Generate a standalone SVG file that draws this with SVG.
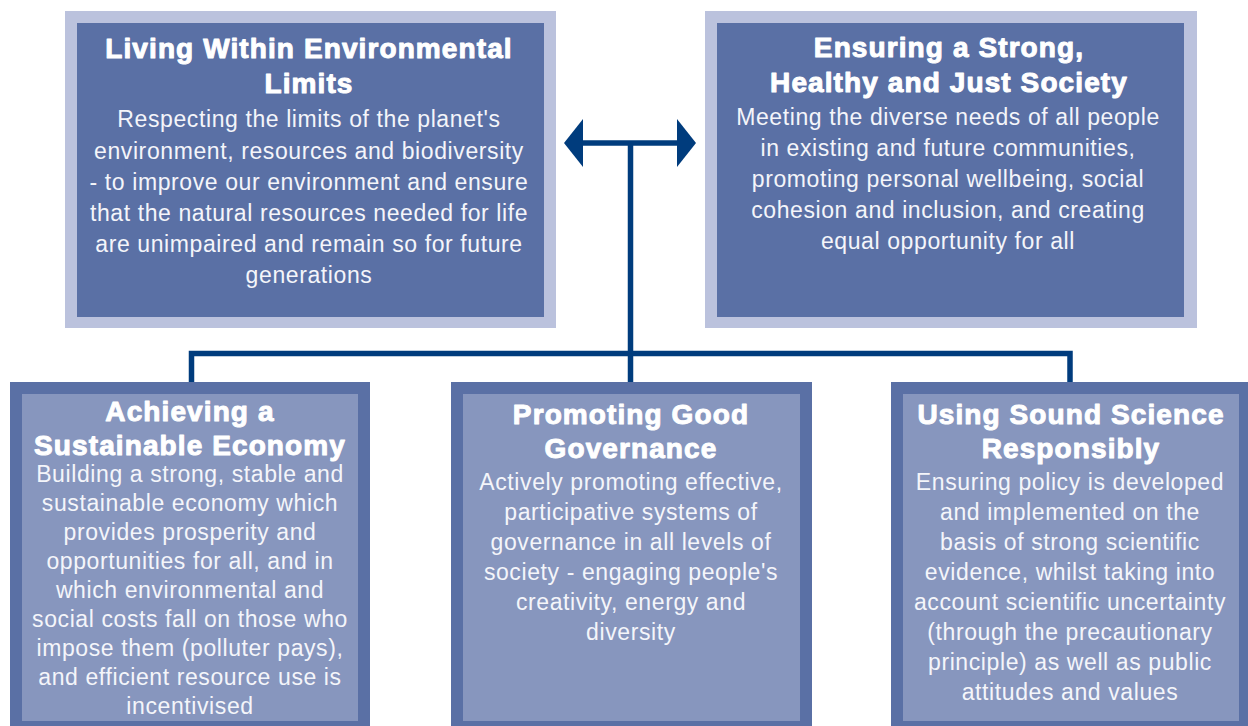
<svg xmlns="http://www.w3.org/2000/svg" width="1248" height="726" viewBox="0 0 1248 726">
<style>
.topOuter{fill:#bbc2dd}
.topInner{fill:#5a70a5}
.botOuter{fill:#5a70a5}
.botInner{fill:#8796be}
.title{font-family:"Liberation Sans",Arial,sans-serif;font-weight:bold;font-size:28px;letter-spacing:1.1px;fill:#ffffff;stroke:#ffffff;stroke-width:1px;stroke-linejoin:round;text-anchor:middle}
.body{font-family:"Liberation Sans",Arial,sans-serif;font-size:23px;letter-spacing:0.6px;fill:#f4f5fa;text-anchor:middle}
.conn{stroke:#003c7d;fill:none;stroke-width:5.5}
</style>
<defs>
<marker id="head" markerUnits="userSpaceOnUse" markerWidth="22" markerHeight="50" viewBox="0 -25 22 50" refX="0" refY="0" orient="auto-start-reverse">
<path d="M0,-24 L19,0 L0,24 Z" fill="#003c7d"/>
</marker>
</defs>
<rect width="1248" height="726" fill="#ffffff"/>
<g id="connectors">
<line class="conn" x1="583" y1="143" x2="677" y2="143" stroke-width="5" marker-start="url(#head)" marker-end="url(#head)"/>
<line class="conn" x1="630.5" y1="143" x2="630.5" y2="384"/>
<polyline class="conn" points="191.5,384 191.5,353.5 1070,353.5 1070,384"/>
</g>
<g id="node-environment">
<rect class="topOuter" x="65" y="11" width="491" height="317"/>
<rect class="topInner" x="77" y="23" width="467" height="294"/>
<text class="title" x="309" y="58">Living Within Environmental</text>
<text class="title" x="309" y="93">Limits</text>
<text class="body" x="309" y="127">Respecting the limits of the planet's</text>
<text class="body" x="309" y="159">environment, resources and biodiversity</text>
<text class="body" x="309" y="190">- to improve our environment and ensure</text>
<text class="body" x="309" y="221">that the natural resources needed for life</text>
<text class="body" x="309" y="252">are unimpaired and remain so for future</text>
<text class="body" x="309" y="283">generations</text>
</g>
<g id="node-society">
<rect class="topOuter" x="705" y="11" width="492" height="317"/>
<rect class="topInner" x="717" y="23" width="467" height="294"/>
<text class="title" x="949" y="57">Ensuring a Strong,</text>
<text class="title" x="949" y="92">Healthy and Just Society</text>
<text class="body" x="948" y="125">Meeting the diverse needs of all people</text>
<text class="body" x="948" y="156">in existing and future communities,</text>
<text class="body" x="948" y="187">promoting personal wellbeing, social</text>
<text class="body" x="948" y="218">cohesion and inclusion, and creating</text>
<text class="body" x="948" y="249">equal opportunity for all</text>
</g>
<g id="node-economy">
<rect class="botOuter" x="10" y="382" width="360" height="352"/>
<rect class="botInner" x="22" y="394" width="336" height="327"/>
<text class="title" x="190" y="421">Achieving a</text>
<text class="title" x="190" y="455">Sustainable Economy</text>
<text class="body" x="190" y="482">Building a strong, stable and</text>
<text class="body" x="190" y="511">sustainable economy which</text>
<text class="body" x="190" y="540">provides prosperity and</text>
<text class="body" x="190" y="569">opportunities for all, and in</text>
<text class="body" x="190" y="598">which environmental and</text>
<text class="body" x="190" y="627">social costs fall on those who</text>
<text class="body" x="190" y="656">impose them (polluter pays),</text>
<text class="body" x="190" y="685">and efficient resource use is</text>
<text class="body" x="190" y="714">incentivised</text>
</g>
<g id="node-governance">
<rect class="botOuter" x="451" y="382" width="361" height="352"/>
<rect class="botInner" x="463" y="394" width="337" height="327"/>
<text class="title" x="631" y="424">Promoting Good</text>
<text class="title" x="631" y="458">Governance</text>
<text class="body" x="631" y="490">Actively promoting effective,</text>
<text class="body" x="631" y="520">participative systems of</text>
<text class="body" x="631" y="550">governance in all levels of</text>
<text class="body" x="631" y="580">society - engaging people's</text>
<text class="body" x="631" y="610">creativity, energy and</text>
<text class="body" x="631" y="640">diversity</text>
</g>
<g id="node-science">
<rect class="botOuter" x="891" y="382" width="370" height="352"/>
<rect class="botInner" x="903" y="394" width="336" height="327"/>
<text class="title" x="1071" y="424">Using Sound Science</text>
<text class="title" x="1071" y="458">Responsibly</text>
<text class="body" x="1070" y="490">Ensuring policy is developed</text>
<text class="body" x="1070" y="520">and implemented on the</text>
<text class="body" x="1070" y="550">basis of strong scientific</text>
<text class="body" x="1070" y="580">evidence, whilst taking into</text>
<text class="body" x="1070" y="610">account scientific uncertainty</text>
<text class="body" x="1070" y="640">(through the precautionary</text>
<text class="body" x="1070" y="670">principle) as well as public</text>
<text class="body" x="1070" y="700">attitudes and values</text>
</g>
</svg>
